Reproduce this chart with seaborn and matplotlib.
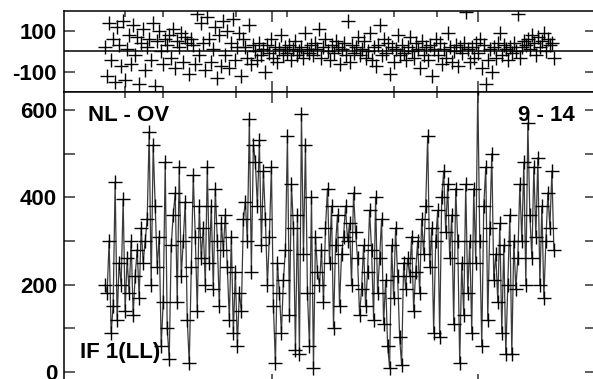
import numpy as np
import pandas as pd
import seaborn as sns
import matplotlib.pyplot as plt
from matplotlib.ticker import FixedLocator

# flux values (bottom panel) left to right
flux = [
    200, 180, 300, 90, 150, 435, 120, 250, 200, 395,
    140, 260, 180, 300, 130, 220, 280, 170, 330, 250,
    300, 350, 550, 200, 520, 380, 240, 310, 60, 160,
    480, 100, 30, 290, 360, 410, 160, 470, 220, 300,
    390, 120, 20, 240, 450, 310, 140, 380, 260, 330,
    200, 470, 250, 380, 190, 420, 300, 150, 340, 280,
    360, 240, 120, 310, 90, 230, 60, 180, 140, 350,
    390, 300, 580, 230, 520, 480, 380, 530, 290, 460,
    350, 200, 310, 470, 150, 20, 250, 180, 90, 210,
    280, 540, 130, 430, 330, 50, 360, 40, 590, 270,
    520, 180, 60, 400, 10, 310, 230, 200, 280, 160,
    330, 420, 250, 380, 100, 290, 360, 150, 270, 310,
    380, 300, 340, 200, 410, 320, 260, 130, 190, 290,
    150, 230, 370, 280, 120, 400, 180, 260, 350, 110,
    210, 60, 10, 290, 170, 330, 220, 80, 15, 250,
    190, 260, 220, 310, 140, 230, 300, 180, 350, 270,
    380, 540, 240, 330, 90, 300, 370, 80, 400, 460,
    320, 430, 260, 360, 110, 420, 300, 20, 250, 130,
    430, 180, 300, 90, 420, 250, 650, 300, 60, 380,
    470, 120, 330, 500, 210, 270, 160, 340, 90, 290,
    40, 200, 360, 40, 300, 190, 260, 430, 300, 480,
    200, 570, 360, 260, 470, 310, 490, 200, 380, 170,
    300, 410, 330, 460, 280,
]

# residuals (top panel)
resid = [
    20, -120, 140, -40, 60, -150, 120, 30, -70, 150, -140, 10, 80, -60, 130,
    -20, 70, -160, 40, 110, -90, 20, 60, -40, 140, -170, 50, 100, 0, -60,
    60, 30, 80, -30, 110, -80, 50, 20, 90, -50, 70, 40, -110, 60, 30,
    -60, 180, -20, 140, 40, -90, 170, 60, -50, 10, 120, -130, 80, -70, 150,
    -20, 100, -80, 40, 160, -40, 20, 90, -120, 60, 20, -30, 130, -60, 30,
    0, -40, 40, -20, 10, -100, 30, -10, 60, -30, 20, -50, 10, 80, -20,
    20, -10, 30, -40, 10, 50, -20, 0, 20, -30, 90, 10, -10, 30, -20,
    40, 10, 110, -30, 20, 60, 0, -40, 30, -10, 50, 20, -60, 10, 40,
    -20, 150, -50, 30, -10, 20, 70, -20, 10, 50, -30, 0, 90, -40, 20,
    -70, 30, 130, -20, 60, -10, 40, -110, 20, -50, 10, 80, -20, 30, -10,
    -40, 20, 70, 0, -30, 40, 10, -80, 50, -20, 20, -40, 30, -120, 10,
    60, -20, 40, -60, 10, -30, 90, 20, -50, 0, 30, -70, 20, -10, 40,
    190, 10, -50, 20, -30, 40, -10, 60, -80, 30, -160, -40, 10, -100, 20,
    -30, 40, 90, -20, 30, 10, -40, 20, -10, 40, 0, 180, -30, 20, 50,
    30, 60, 10, 80, 40, -20, 70, 20, 50, 90, 0, 60, 30, 40, -30,
]

df = pd.DataFrame({'t': np.arange(len(flux)), 'flux': flux, 'resid': resid})

sns.set_style('white')
plt.rcParams['font.family'] = ['Liberation Sans', 'DejaVu Sans']
plt.rcParams['font.weight'] = 'bold'
plt.rcParams['text.color'] = 'black'
plt.rcParams['ytick.color'] = 'black'
plt.rcParams['xtick.color'] = 'black'

fig = plt.figure(figsize=(5.93, 3.79), dpi=100)
ax_r = fig.add_axes([0.108, 0.7573, 0.897, 0.2137])
ax_f = fig.add_axes([0.108, -0.016, 0.897, 0.7733])

xlim = (-20.5, 245)
major_x = [83.5, 186]
minor_x = [10, 29, 65.5, 91, 144, 165.5]

# residual panel
sns.scatterplot(data=df, x='t', y='resid', marker='+', s=110, color='black',
                linewidth=1.0, ax=ax_r, legend=False)
ax_r.axhline(0, color='black', lw=1.1)
ax_r.set_ylim(-198, 197)
ax_r.set_yticks([100, -100])
ax_r.set_yticklabels(['100', '-100'])

# flux panel
sns.lineplot(data=df, x='t', y='flux', color='#3a3a3a', lw=0.9, marker='+',
             markersize=10, markeredgecolor='black', markeredgewidth=1.0,
             ax=ax_f)
ax_f.set_ylim(-30, 641)
ax_f.set_yticks([0, 200, 400, 600])
ax_f.yaxis.set_minor_locator(FixedLocator([100, 300, 500]))

for ax in (ax_r, ax_f):
    ax.set_xlim(*xlim)
    ax.set_xlabel('')
    ax.set_ylabel('')
    ax.set_xticks(major_x)
    ax.set_xticklabels([])
    ax.xaxis.set_minor_locator(FixedLocator(minor_x))
    ax.tick_params(which='both', direction='in', left=True, right=True,
                   top=True, bottom=True, labelsize=16, pad=5,
                   labelcolor='black')
    ax.tick_params(which='major', length=8, width=1.1, color='#333333')
    ax.tick_params(which='minor', length=8, width=1.1, color='#333333')
    ax.tick_params(axis='x', which='minor', length=4)
    for sp in ax.spines.values():
        sp.set_linewidth(1.1)
        sp.set_color('black')
    for lab in ax.get_yticklabels():
        lab.set_fontweight('bold')

ax_f.text(0.045, 0.955, 'NL - OV', transform=ax_f.transAxes, fontsize=16,
          fontweight='bold', va='top', ha='left', color='black')
ax_f.text(0.96, 0.955, '9 - 14', transform=ax_f.transAxes, fontsize=16,
          fontweight='bold', va='top', ha='right', color='black')
ax_f.text(0.03, 0.075, 'IF 1(LL)', transform=ax_f.transAxes, fontsize=16,
          fontweight='bold', va='bottom', ha='left', color='black')

fig.savefig('out.png', dpi=100)
